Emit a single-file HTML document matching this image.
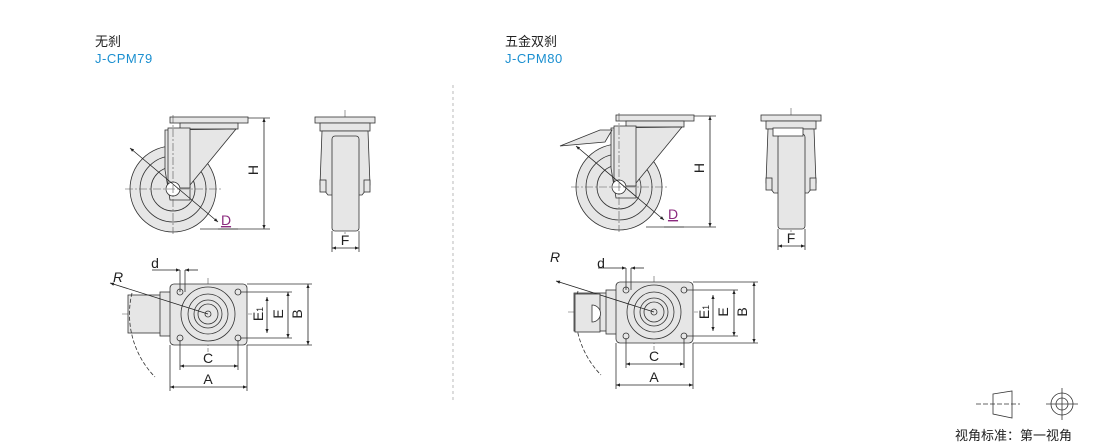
<!DOCTYPE html>
<html><head><meta charset="utf-8"><style>
body{margin:0;background:#fff;width:1110px;height:446px;overflow:hidden;font-family:"Liberation Sans","Noto Sans CJK SC",sans-serif}
svg{position:absolute;left:0;top:0}
</style></head><body>
<svg width="1110" height="446" viewBox="0 0 1110 446" xmlns="http://www.w3.org/2000/svg" font-family="Liberation Sans, Noto Sans CJK SC, sans-serif">
<defs>
<marker id="ar" viewBox="0 0 10 10" refX="10" refY="5" markerWidth="7" markerHeight="5" orient="auto-start-reverse"><path d="M0,1 L10,5 L0,9 z" fill="#222"/></marker>
<g id="cast" stroke="#333" stroke-width="0.8" fill="#e6e6e6">
  <!-- side view -->
  <rect x="170" y="117" width="78" height="6"/>
  <rect x="180" y="123" width="58" height="6"/>
  <circle cx="173" cy="189" r="43"/>
  <circle cx="173" cy="189" r="33" fill="none"/>
  <circle cx="173" cy="189" r="22" fill="none"/>
  <path d="M165,130 L236,129 L190,185 L190,200 L170,200 L165,170 Z"/>
  <rect x="168" y="128" width="22" height="60" fill="#e6e6e6"/>
  <circle cx="173" cy="189" r="7" fill="#fff"/>
  <g stroke="#555" stroke-width="0.6" stroke-dasharray="8,2,2,2" fill="none">
    <line x1="173" y1="115" x2="173" y2="234"/><line x1="125" y1="189" x2="222" y2="189"/>
    <line x1="345" y1="110" x2="345" y2="236"/>
    <line x1="208" y1="278" x2="208" y2="352"/><line x1="122" y1="314" x2="252" y2="314"/>
  </g>
  <line x1="130" y1="148" x2="218" y2="222" stroke="#222" marker-start="url(#ar)" marker-end="url(#ar)"/>
  <line x1="218" y1="229" x2="238" y2="229" stroke="#222"/>
  <line x1="248" y1="118" x2="270" y2="118" fill="none"/><line x1="200" y1="229" x2="270" y2="229"/>
  <line x1="264" y1="118" x2="264" y2="229" stroke="#222" marker-start="url(#ar)" marker-end="url(#ar)"/>
  <!-- front view -->
  <rect x="315" y="117" width="60" height="6"/>
  <rect x="320" y="123" width="50" height="8"/>
  <path d="M322,131 L368,131 L370,185 L362,195 L328,195 L320,185 Z"/>
  <rect x="332" y="136" width="27" height="95" rx="3"/>
  <rect x="320" y="180" width="6" height="12"/><rect x="364" y="180" width="6" height="12"/>
  <line x1="332" y1="231" x2="332" y2="252"/><line x1="359" y1="231" x2="359" y2="252"/>
  <line x1="332" y1="248" x2="359" y2="248" stroke="#222" marker-start="url(#ar)" marker-end="url(#ar)"/>
  <!-- bottom view -->
  <rect x="128" y="295" width="42" height="38" fill="#e6e6e6"/>
  <rect x="160" y="292" width="12" height="44"/>
  <rect x="170" y="284" width="77" height="61" rx="4"/>
  <circle cx="208" cy="314" r="27"/>
  <circle cx="208" cy="314" r="20" fill="none"/>
  <circle cx="208" cy="314" r="14" fill="none"/>
  <circle cx="208" cy="314" r="10" fill="none"/>
  <circle cx="208" cy="314" r="3" fill="none"/>
  <circle cx="180" cy="292" r="3" fill="none"/><circle cx="238" cy="292" r="3" fill="none"/>
  <circle cx="180" cy="338" r="3" fill="none"/><circle cx="238" cy="338" r="3" fill="none"/>
  <path d="M132,293 A90,90 0 0 0 155,377" fill="none" stroke-dasharray="4,2"/>
  <line x1="110" y1="283" x2="208" y2="314" stroke="#222" marker-start="url(#ar)"/>
  <line x1="180" y1="270" x2="180" y2="292"/><line x1="185" y1="270" x2="185" y2="292"/>
  <line x1="152" y1="270" x2="180" y2="270" stroke="#222" marker-end="url(#ar)"/>
  <line x1="198" y1="270" x2="185" y2="270" stroke="#222" marker-end="url(#ar)"/>
  <line x1="180" y1="340" x2="180" y2="370"/><line x1="238" y1="340" x2="238" y2="370"/>
  <line x1="170" y1="345" x2="170" y2="391"/><line x1="247" y1="345" x2="247" y2="391"/>
  <line x1="180" y1="366" x2="238" y2="366" stroke="#222" marker-start="url(#ar)" marker-end="url(#ar)"/>
  <line x1="170" y1="387" x2="247" y2="387" stroke="#222" marker-start="url(#ar)" marker-end="url(#ar)"/>
  <line x1="247" y1="284" x2="312" y2="284"/><line x1="247" y1="345" x2="312" y2="345"/>
  <line x1="240" y1="292" x2="292" y2="292"/><line x1="240" y1="338" x2="292" y2="338"/>
  <line x1="308" y1="284" x2="308" y2="345" stroke="#222" marker-start="url(#ar)" marker-end="url(#ar)"/>
  <line x1="288" y1="292" x2="288" y2="338" stroke="#222" marker-start="url(#ar)" marker-end="url(#ar)"/>
  <line x1="267" y1="297" x2="267" y2="333" stroke="#222" marker-start="url(#ar)" marker-end="url(#ar)"/>
</g>
</defs>
<use href="#cast"/>
<use href="#cast" transform="translate(446,-2)"/>
<!-- brake extras -->
<path d="M560,146 L600,130 L612,130 L605,142 Z" fill="#e6e6e6" stroke="#333" stroke-width="0.8"/>
<rect x="575" y="294" width="25" height="38" fill="#e6e6e6" stroke="#333" stroke-width="0.8"/>
<path d="M592,305 A8,8 0 0 1 592,322 Z" fill="#fff" stroke="#333" stroke-width="0.8"/>
<rect x="773" y="128" width="30" height="8" fill="#fff" stroke="#333" stroke-width="0.8"/>
<g font-size="14" fill="#222" text-anchor="middle">
<text x="155" y="268">d</text><text x="118" y="282" font-style="italic">R</text>
<text x="208" y="363">C</text><text x="208" y="384">A</text>
<text x="345" y="245">F</text>
<text x="601" y="268">d</text><text x="555" y="262" font-style="italic">R</text>
<text x="654" y="361">C</text><text x="654" y="382">A</text>
<text x="791" y="243">F</text>
<text x="226" y="225" fill="#8b2a7e" text-decoration="underline">D</text>
<text x="673" y="219" fill="#8b2a7e" text-decoration="underline">D</text>
<text transform="translate(258,170) rotate(-90)">H</text>
<text transform="translate(704,168) rotate(-90)">H</text>
<text transform="translate(302,314) rotate(-90)">B</text>
<text transform="translate(283,314) rotate(-90)">E</text>
<text transform="translate(263,314) rotate(-90)">E<tspan font-size="9">1</tspan></text>
<text transform="translate(747,312) rotate(-90)">B</text>
<text transform="translate(728,312) rotate(-90)">E</text>
<text transform="translate(709,312) rotate(-90)">E<tspan font-size="9">1</tspan></text>
</g>
<g font-size="13">
<text x="95" y="46" fill="#222">无刹</text>
<text x="95" y="63" fill="#1a8fd0" letter-spacing="0.5">J-CPM79</text>
<text x="505" y="46" fill="#222">五金双刹</text>
<text x="505" y="63" fill="#1a8fd0" letter-spacing="0.5">J-CPM80</text>
</g>
<line x1="453" y1="85" x2="453" y2="400" stroke="#aaa" stroke-width="0.8" stroke-dasharray="3,3"/>
<g stroke="#333" stroke-width="0.8" fill="none">
<path d="M993,394 L1012,391 L1012,418 L993,414 Z"/>
<line x1="976" y1="404" x2="1020" y2="404" stroke-dasharray="5,2"/>
<circle cx="1062" cy="404" r="11"/><circle cx="1062" cy="404" r="6"/>
<line x1="1046" y1="404" x2="1078" y2="404"/><line x1="1062" y1="388" x2="1062" y2="420"/>
</g>
<text x="955" y="440" font-size="13" fill="#222">视角标准：第一视角</text>
</svg>
</body></html>
